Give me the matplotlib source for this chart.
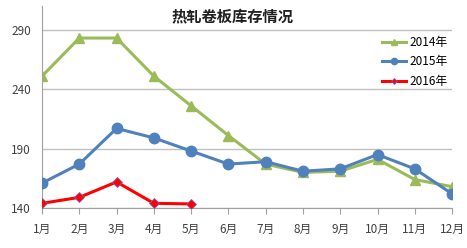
import matplotlib.pyplot as plt

plt.rcParams['font.family'] = ['Noto Sans CJK SC', 'DejaVu Sans']

months = ["1月", "2月", "3月", "4月", "5月", "6月", "7月", "8月", "9月", "10月", "11月", "12月"]
y2014 = [251, 283, 283, 251, 226, 201, 177, 170, 171, 181, 164, 158]
y2015 = [161, 177, 207, 199, 188, 177, 179, 171, 173, 185, 173, 152]
y2016 = [144, 149, 162, 144, 143.5]
yticks = [140, 190, 240, 290]

fig = plt.figure(figsize=(4.67, 2.48), dpi=100)
ax = fig.add_axes([0.09, 0.161, 0.878, 0.815])

x = list(range(len(months)))
ax.plot(x, y2014, color="#9BBB59", lw=2.2, marker="^", ms=7, label="2014年", zorder=2)
ax.plot(x, y2015, color="#4F81BD", lw=2.2, marker="o", ms=7.5, label="2015年", zorder=3)
ax.plot(x[:len(y2016)], y2016, color="#FF0000", lw=2.2, marker="D", ms=5,
        mec="#7F5FBF", mew=0.6, label="2016年", zorder=4)

ax.set_xlim(0, 11)
ax.set_ylim(140, 310)
ax.set_xticks(x)
ax.set_xticklabels(months, fontsize=8.5)
ax.set_yticks(yticks)
ax.tick_params(axis="y", length=0, labelsize=8.5, pad=8, colors="#404040")
ax.tick_params(axis="x", length=4, color="#A0A0A0", labelsize=8.5, pad=7, colors="#404040")
ax.grid(axis="y", color="#C0C0C0", lw=1)
for s in ("top", "right"):
    ax.spines[s].set_visible(False)
for s in ("left", "bottom"):
    ax.spines[s].set_color("#A0A0A0")

ax.text(0.465, 0.99, "热轧卷板库存情况", transform=ax.transAxes, ha="center", va="top",
        fontsize=11, fontweight="bold", color="#202020")

leg = ax.legend(loc="upper right", bbox_to_anchor=(1.015, 0.905), frameon=False,
                fontsize=8.5, handlelength=2.0, labelspacing=0.55, handletextpad=0.3,
                markerscale=0.6)

fig.savefig("out.png", dpi=100)
